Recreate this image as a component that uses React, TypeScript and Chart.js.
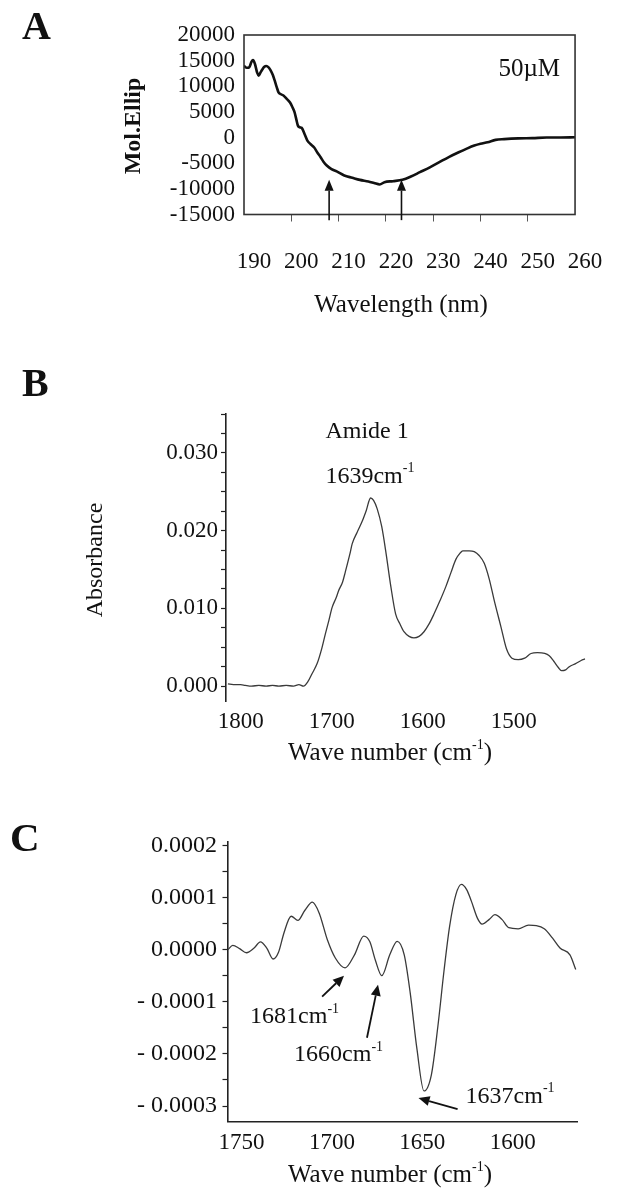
import React, { useEffect, useRef } from "react";
import { Chart, registerables } from "chart.js";
Chart.register(...registerables);

const SERIF = '"Liberation Serif", "Times New Roman", Times, serif';

// ---------------- Panel A : CD spectrum ----------------
const A_WAVELENGTH = [
  190.0, 190.6, 191.1, 191.6, 191.9, 192.3, 192.8, 193.1, 193.5, 193.8, 194.3, 194.7, 195.2, 195.6,
  196.1, 196.5, 196.9, 197.3, 197.8, 198.4, 199.0, 199.7, 200.2, 200.7, 201.1, 201.4, 201.8, 202.2,
  202.8, 203.4, 204.1, 204.8, 205.5, 206.2, 206.8, 207.5, 208.5, 209.6, 211.2, 212.9, 214.5, 216.3,
  217.5, 218.7, 219.7, 221.5, 223.5, 225.3, 227.2, 229.3, 231.3, 233.3, 235.4, 237.0, 238.7, 240.0,
  241.5, 243.2, 245.0, 248.0, 251.0, 254.0, 257.0, 260.0,
];
const A_MOL_ELLIP = [
  14000, 13600, 13700, 14800, 15100, 14400, 12600, 12060, 12700, 13170, 13800, 13950, 13700, 13170,
  12200, 11090, 9900, 8820, 8450, 8170, 7600, 6870, 6000, 4920, 3400, 2330, 2000, 1890,
  700, -580, -1300, -1890, -2900, -3830, -4700, -5450, -6150, -6600, -7390, -7840, -8250, -8560,
  -8850, -9140, -8700, -8500, -8230, -7600, -6750, -5800, -4800, -3800, -2860, -2200, -1560, -1200,
  -910, -450, -300, -150, -100, 0, 0, 50,
];
const A_X_TICKS = [190, 200, 210, 220, 230, 240, 250, 260];
const A_Y_TICKS = [-15000, -10000, -5000, 0, 5000, 10000, 15000, 20000];
const A_ARROW_NM = [208, 223.3];
const A_ARROW_FROM = -16100;
const A_ARROW_TO = -8200;
const A_CONC_LABEL = { text: "50µM", x: 243.8, y: 13230 };

// ---------------- Panel B : FTIR absorbance ----------------
const B_WAVENUMBER = [
  1814, 1808, 1800, 1795, 1788, 1780, 1772, 1765, 1758, 1750, 1742, 1736, 1731, 1726, 1721.6, 1716,
  1711, 1707, 1703, 1699.6, 1695, 1692.3, 1688, 1685, 1680, 1677.5, 1672, 1666.5, 1662, 1657.3, 1654,
  1650, 1645, 1640.8, 1635, 1629.8, 1625, 1620.6, 1615, 1609.6, 1604, 1598.6, 1593, 1587.5, 1581,
  1574.6, 1569, 1563.6, 1559, 1556, 1549, 1543.4, 1538, 1532.4, 1527, 1521.4, 1514, 1508, 1502, 1495,
  1488, 1481, 1474, 1466, 1461, 1456, 1451, 1447.6, 1443, 1439, 1432, 1426, 1421.6,
];
const B_ABSORBANCE = [
  0.0003, 0.0002, 0.0002, 0.0001, 0.0, 0.0001, 0.0, 0.0001, 0.0, 0.0001, 0.0, 0.0002, 0.0, 0.0006,
  0.0016, 0.0029, 0.0048, 0.0067, 0.0085, 0.0101, 0.0114, 0.0123, 0.0134, 0.0147, 0.017, 0.0183, 0.0198,
  0.0212, 0.0226, 0.0242, 0.0239, 0.0228, 0.0205, 0.0175, 0.0128, 0.0093, 0.008, 0.007, 0.0064, 0.0062,
  0.0064, 0.007, 0.008, 0.0093, 0.011, 0.0128, 0.0146, 0.0163, 0.0171, 0.0174, 0.0174, 0.0173, 0.0168,
  0.0158, 0.0138, 0.011, 0.0076, 0.0048, 0.0036, 0.0034, 0.0036, 0.0042, 0.0043, 0.0042, 0.0039, 0.0032,
  0.0024, 0.002, 0.0021, 0.0025, 0.0029, 0.0033, 0.0035,
];
const B_X_TICKS = [1800, 1700, 1600, 1500];
const B_Y_TICKS = [
  0, 0.0025, 0.005, 0.0075, 0.01, 0.0125, 0.015, 0.0175, 0.02, 0.0225, 0.025, 0.0275, 0.03, 0.0325, 0.035,
];
const B_Y_LABELED = [0, 0.01, 0.02, 0.03];
const B_NOTES = [
  { parts: [["Amide 1", false]] as [string, boolean][], x: 1706.9, y: 0.03274 },
  { parts: [["1639cm", false], ["-1", true]] as [string, boolean][], x: 1706.9, y: 0.02698 },
];

// ---------------- Panel C : second derivative ----------------
const C_WAVENUMBER = [
  1757.4, 1754.8, 1751, 1747.2, 1743, 1739.5, 1736, 1732.5, 1729.5, 1726.5, 1722.5, 1718.8, 1715,
  1710.8, 1707, 1702.5, 1698.1, 1692.7, 1687.5, 1682.4, 1679, 1676, 1672.4, 1668, 1663.9, 1660, 1656.7,
  1653, 1649.1, 1645, 1641.4, 1638, 1634.9, 1631.5, 1628.4, 1625.5, 1622.9, 1619.5, 1617, 1613, 1609.9,
  1606, 1602.2, 1597, 1591.3, 1587, 1582.6, 1578, 1573.9, 1568.4, 1565.2,
];
const C_SECOND_DERIV = [
  0.0, 0.000008, 0.000002, -0.000006, 0.000003, 0.000015, 0.000003, -0.000018, -0.000005, 0.000032,
  0.000064, 0.000056, 0.000075, 0.000091, 0.00007, 0.000019, -0.000016, -0.000035, -0.00001, 0.000026,
  0.000015, -0.00002, -0.00005, -0.00001, 0.000016, -0.00001, -0.000083, -0.00019, -0.000271, -0.00024,
  -0.000147, -0.00004, 0.000045, 0.000105, 0.000125, 0.000115, 0.000093, 0.00006, 0.000049, 0.000058,
  0.000067, 0.000058, 0.000042, 0.00004, 0.000047, 0.000046, 0.00004, 0.000022, 0.000003, -0.00001,
  -0.000038,
];
const C_X_TICKS = [1750, 1700, 1650, 1600];
const C_Y_TICKS = [
  -0.0003, -0.00025, -0.0002, -0.00015, -0.0001, -0.00005, 0, 0.00005, 0.0001, 0.00015, 0.0002,
];
const C_Y_LABELED = [-0.0003, -0.0002, -0.0001, 0, 0.0001, 0.0002];
const C_PEAK_LABELS = ["1681", "1660", "1637"];
const C_LABEL_POS = [
  [1745.2, -0.0001286],
  [1720.9, -0.0002015],
  [1626.1, -0.0002816],
];
const C_ARROW_TAIL = [
  [1705.4, -0.0000902],
  [1680.6, -0.000169],
  [1630.5, -0.0003058],
];
const C_ARROW_TIP = [
  [1693.3, -0.0000499],
  [1674.5, -0.0000672],
  [1652.1, -0.0002846],
];

// ---------------- drawing helpers ----------------
const font = (size: number, weight = "normal") => `${weight} ${size}px ${SERIF}`;

function drawRich(
  ctx: CanvasRenderingContext2D,
  parts: [string, boolean][],
  x: number,
  y: number,
  size: number,
  align: "left" | "center",
  weight = "normal"
) {
  const sup = Math.round(size * 0.58);
  const widths = parts.map(([t, s]) => {
    ctx.font = font(s ? sup : size, weight);
    return ctx.measureText(t).width;
  });
  const total = widths.reduce((a, b) => a + b, 0);
  let cx = align === "center" ? x - total / 2 : x;
  ctx.textAlign = "left";
  ctx.textBaseline = "middle";
  parts.forEach(([t, s], i) => {
    ctx.font = font(s ? sup : size, weight);
    ctx.fillText(t, cx, s ? y - size * 0.32 : y);
    cx += widths[i];
  });
}

function drawRotated(ctx: CanvasRenderingContext2D, text: string, x: number, y: number, f: string) {
  ctx.save();
  ctx.translate(x, y);
  ctx.rotate(-Math.PI / 2);
  ctx.font = f;
  ctx.textAlign = "center";
  ctx.textBaseline = "middle";
  ctx.fillText(text, 0, 0);
  ctx.restore();
}

function drawArrow(
  ctx: CanvasRenderingContext2D,
  x1: number,
  y1: number,
  x2: number,
  y2: number,
  lw: number,
  head = 10,
  half = 4.5
) {
  const ang = Math.atan2(y2 - y1, x2 - x1);
  const bx = x2 - Math.cos(ang) * head;
  const by = y2 - Math.sin(ang) * head;
  ctx.save();
  ctx.strokeStyle = "#111";
  ctx.fillStyle = "#111";
  ctx.lineWidth = lw;
  ctx.beginPath();
  ctx.moveTo(x1, y1);
  ctx.lineTo(bx, by);
  ctx.stroke();
  ctx.beginPath();
  ctx.moveTo(x2, y2);
  ctx.lineTo(bx + Math.sin(ang) * half, by - Math.cos(ang) * half);
  ctx.lineTo(bx - Math.sin(ang) * half, by + Math.cos(ang) * half);
  ctx.closePath();
  ctx.fill();
  ctx.restore();
}

const baseOptions = {
  animation: false as const,
  responsive: false,
  devicePixelRatio: 1,
  events: [] as any[],
  plugins: { legend: { display: false }, tooltip: { enabled: false } },
  elements: { point: { radius: 0 } },
};

const isIn = (list: number[], v: number) => list.some((m) => Math.abs(m - v) < 1e-9);

// ---------------- chart builders ----------------
function buildA(): any {
  return {
    type: "line",
    data: {
      datasets: [
        {
          data: A_WAVELENGTH.map((x, i) => ({ x, y: A_MOL_ELLIP[i] })),
          borderColor: "#111",
          borderWidth: 2.6,
          cubicInterpolationMode: "monotone",
          fill: false,
        },
      ],
    },
    options: {
      ...baseOptions,
      layout: { padding: { left: 0, top: 35, right: 31, bottom: 0 } },
      scales: {
        x: {
          type: "linear",
          min: 190,
          max: 260,
          afterBuildTicks: (s: any) => {
            s.ticks = A_X_TICKS.map((v) => ({ value: v }));
          },
          afterFit: (s: any) => {
            s.height = 115.5;
          },
          grid: {
            drawOnChartArea: false,
            drawTicks: true,
            tickLength: 7,
            tickWidth: 1,
            tickColor: (c: any) =>
              c.tick && (c.tick.value === 190 || c.tick.value === 260) ? "rgba(0,0,0,0)" : "#555",
          },
          border: { display: false },
          ticks: {
            autoSkip: false,
            maxRotation: 0,
            labelOffset: 10,
            padding: 26.7,
            color: "#111",
            font: { family: SERIF, size: 23 },
            callback: (v: any) => String(v),
          },
        },
        y: {
          type: "linear",
          min: -15000,
          max: 20000,
          afterBuildTicks: (s: any) => {
            s.ticks = A_Y_TICKS.map((v) => ({ value: v }));
          },
          afterFit: (s: any) => {
            s.width = 244;
          },
          grid: { drawOnChartArea: false, drawTicks: false },
          border: { display: false },
          ticks: {
            autoSkip: false,
            padding: 9,
            color: "#111",
            font: { family: SERIF, size: 23 },
            callback: (v: any) => String(v),
          },
        },
      },
    },
    plugins: [
      {
        id: "decorA",
        afterDraw(chart: any) {
          const ctx = chart.ctx as CanvasRenderingContext2D;
          const { left, right, top, bottom } = chart.chartArea;
          const xs = chart.scales.x;
          const ys = chart.scales.y;
          ctx.save();
          ctx.strokeStyle = "#333";
          ctx.lineWidth = 1.6;
          ctx.strokeRect(left, top, right - left, bottom - top);
          ctx.fillStyle = "#111";
          ctx.font = font(40, "bold");
          ctx.textAlign = "left";
          ctx.textBaseline = "middle";
          ctx.fillText("A", 22, 29);
          drawRotated(ctx, "Mol.Ellip", 134, 126, font(24, "bold"));
          drawRich(ctx, [["Wavelength (nm)", false]], 401, 305, 25, "center");
          drawRich(
            ctx,
            [[A_CONC_LABEL.text, false]],
            xs.getPixelForValue(A_CONC_LABEL.x),
            ys.getPixelForValue(A_CONC_LABEL.y),
            25,
            "left"
          );
          A_ARROW_NM.forEach((nm) => {
            const px = xs.getPixelForValue(nm);
            drawArrow(ctx, px, ys.getPixelForValue(A_ARROW_FROM), px, ys.getPixelForValue(A_ARROW_TO), 1.6, 11, 4.5);
          });
          ctx.restore();
        },
      },
    ],
  };
}

function buildB(): any {
  return {
    type: "line",
    data: {
      datasets: [
        {
          data: B_WAVENUMBER.map((x, i) => ({ x, y: B_ABSORBANCE[i] })),
          borderColor: "#3a3a3a",
          borderWidth: 1.3,
          cubicInterpolationMode: "monotone",
          fill: false,
        },
      ],
    },
    options: {
      ...baseOptions,
      layout: { padding: { left: 0, top: 84, right: 33.7, bottom: 0 } },
      scales: {
        x: {
          type: "linear",
          reverse: true,
          min: 1421.4,
          max: 1816.1,
          afterBuildTicks: (s: any) => {
            s.ticks = B_X_TICKS.map((v) => ({ value: v }));
          },
          afterFit: (s: any) => {
            s.height = 68.3;
          },
          grid: { drawOnChartArea: false, drawTicks: false },
          border: { display: false },
          ticks: {
            autoSkip: false,
            maxRotation: 0,
            padding: 6.5,
            color: "#111",
            font: { family: SERIF, size: 23 },
            callback: (v: any) => String(v),
          },
        },
        y: {
          type: "linear",
          min: -0.002,
          max: 0.035,
          afterBuildTicks: (s: any) => {
            s.ticks = B_Y_TICKS.map((v) => ({ value: v }));
          },
          afterFit: (s: any) => {
            s.width = 226;
          },
          grid: {
            drawOnChartArea: false,
            drawTicks: true,
            tickLength: 5,
            tickWidth: 1.2,
            tickColor: "#222",
          },
          border: { display: true, color: "#222", width: 1.6 },
          ticks: {
            autoSkip: false,
            padding: 3,
            color: "#111",
            font: { family: SERIF, size: 23 },
            callback: (v: any) => (isIn(B_Y_LABELED, v) ? Number(v).toFixed(3) : ""),
          },
        },
      },
    },
    plugins: [
      {
        id: "decorB",
        afterDraw(chart: any) {
          const ctx = chart.ctx as CanvasRenderingContext2D;
          const xs = chart.scales.x;
          const ys = chart.scales.y;
          ctx.save();
          ctx.fillStyle = "#111";
          ctx.font = font(40, "bold");
          ctx.textAlign = "left";
          ctx.textBaseline = "middle";
          ctx.fillText("B", 22, 56);
          drawRotated(ctx, "Absorbance", 96, 230, font(24));
          drawRich(ctx, [["Wave number (cm", false], ["-1", true], [")", false]], 390, 423, 25, "center");
          B_NOTES.forEach((n) => {
            drawRich(ctx, n.parts, xs.getPixelForValue(n.x), ys.getPixelForValue(n.y), 24, "left");
          });
          ctx.restore();
        },
      },
    ],
  };
}

function buildC(): any {
  return {
    type: "line",
    data: {
      datasets: [
        {
          data: C_WAVENUMBER.map((x, i) => ({ x, y: C_SECOND_DERIV[i] })),
          borderColor: "#3a3a3a",
          borderWidth: 1.3,
          cubicInterpolationMode: "monotone",
          fill: false,
        },
      ],
    },
    options: {
      ...baseOptions,
      layout: { padding: { left: 0, top: 91.7, right: 41.1, bottom: 0 } },
      scales: {
        x: {
          type: "linear",
          reverse: true,
          min: 1564,
          max: 1757.7,
          afterBuildTicks: (s: any) => {
            s.ticks = C_X_TICKS.map((v) => ({ value: v }));
          },
          afterFit: (s: any) => {
            s.height = 66.3;
          },
          grid: { drawOnChartArea: false, drawTicks: false },
          border: { display: true, color: "#222", width: 1.6 },
          ticks: {
            autoSkip: false,
            maxRotation: 0,
            padding: 7.5,
            color: "#111",
            font: { family: SERIF, size: 23 },
            callback: (v: any) => String(v),
          },
        },
        y: {
          type: "linear",
          min: -0.00033,
          max: 0.000207,
          afterBuildTicks: (s: any) => {
            s.ticks = C_Y_TICKS.map((v) => ({ value: v }));
          },
          afterFit: (s: any) => {
            s.width = 227.5;
          },
          grid: {
            drawOnChartArea: false,
            drawTicks: true,
            tickLength: 5,
            tickWidth: 1.2,
            tickColor: "#222",
          },
          border: { display: true, color: "#222", width: 1.6 },
          ticks: {
            autoSkip: false,
            padding: 5.5,
            color: "#111",
            font: { family: SERIF, size: 24 },
            callback: (v: any) => {
              const n = Number(v);
              if (!isIn(C_Y_LABELED, n)) return "";
              return n < -1e-12 ? "- " + Math.abs(n).toFixed(4) : Math.abs(n).toFixed(4);
            },
          },
        },
      },
    },
    plugins: [
      {
        id: "decorC",
        afterDraw(chart: any) {
          const ctx = chart.ctx as CanvasRenderingContext2D;
          const xs = chart.scales.x;
          const ys = chart.scales.y;
          ctx.save();
          ctx.fillStyle = "#111";
          ctx.font = font(41, "bold");
          ctx.textAlign = "left";
          ctx.textBaseline = "middle";
          ctx.fillText("C", 10, 90);
          drawRich(ctx, [["Wave number (cm", false], ["-1", true], [")", false]], 390, 425, 25, "center");
          C_PEAK_LABELS.forEach((lab, i) => {
            const [lx, ly] = C_LABEL_POS[i];
            drawRich(
              ctx,
              [[lab + "cm", false], ["-1", true]],
              xs.getPixelForValue(lx),
              ys.getPixelForValue(ly),
              24,
              "left"
            );
            const [tx, ty] = C_ARROW_TAIL[i];
            const [hx, hy] = C_ARROW_TIP[i];
            drawArrow(
              ctx,
              xs.getPixelForValue(tx),
              ys.getPixelForValue(ty),
              xs.getPixelForValue(hx),
              ys.getPixelForValue(hy),
              1.8,
              11,
              5
            );
          });
          ctx.restore();
        },
      },
    ],
  };
}

function Panel({ top, height, build }: { top: number; height: number; build: () => any }) {
  const ref = useRef<HTMLCanvasElement>(null);
  useEffect(() => {
    if (!ref.current) return;
    const chart = new Chart(ref.current, build());
    return () => chart.destroy();
  }, [build]);
  return (
    <canvas
      ref={ref}
      width={619}
      height={height}
      style={{ position: "absolute", left: 0, top, width: 619, height, display: "block" }}
    />
  );
}

export default function App() {
  return (
    <div style={{ position: "absolute", left: 0, top: 0, width: 619, height: 1188, background: "#fff", overflow: "hidden" }}>
      <Panel top={0} height={330} build={buildA} />
      <Panel top={330} height={440} build={buildB} />
      <Panel top={750} height={438} build={buildC} />
    </div>
  );
}
